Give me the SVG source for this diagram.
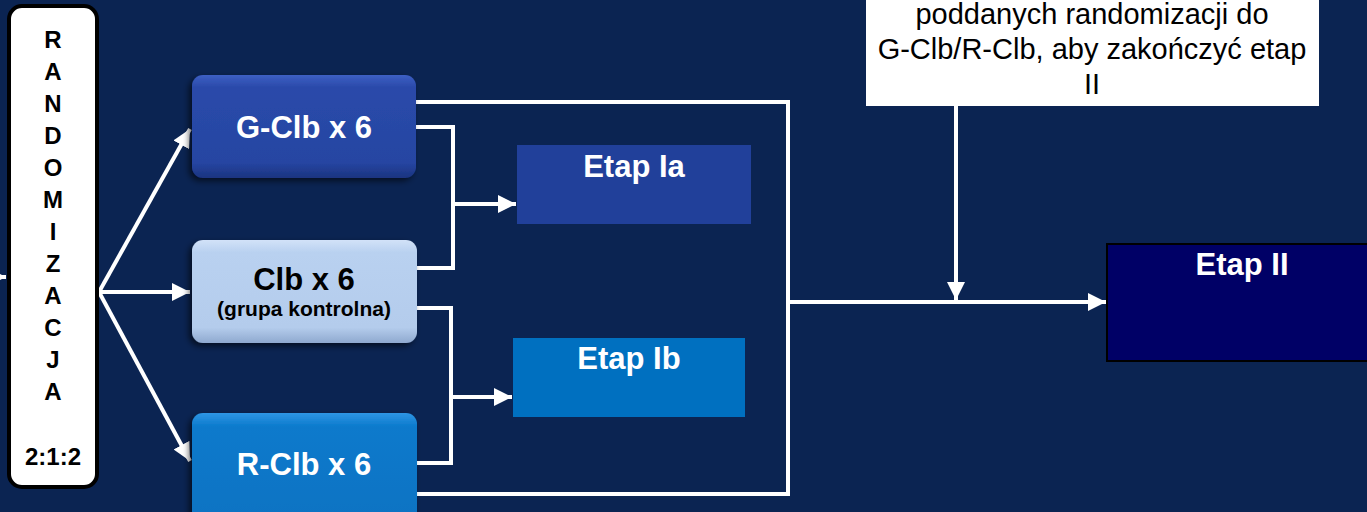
<svg xmlns="http://www.w3.org/2000/svg" width="1367" height="512" viewBox="0 0 1367 512">
<style>
.bg{fill:#0B2452}
.ln{fill:none;stroke:#FFFFFF;stroke-width:4;stroke-linejoin:miter}
.big{font-family:"Liberation Sans",Arial,sans-serif;font-weight:bold;font-size:31px;text-anchor:middle}
.let{font-family:"Liberation Sans",Arial,sans-serif;font-weight:bold;font-size:24px;text-anchor:middle;fill:#000}
.note{font-family:"Liberation Sans",Arial,sans-serif;font-size:29px;text-anchor:middle;fill:#000}
.w{fill:#FFFFFF}
.k{fill:#000000}
</style>
<defs>
<marker id="ah" viewBox="0 0 10 10" refX="10" refY="5" markerWidth="4.5" markerHeight="4.5" orient="auto" markerUnits="strokeWidth">
<path d="M0,0 L10,5 L0,10 z" fill="#FFFFFF"/>
</marker>
<linearGradient id="gBlue" x1="0" y1="0" x2="0" y2="1">
<stop offset="0" stop-color="#3D5FC4"/>
<stop offset="0.12" stop-color="#2A4AAA"/>
<stop offset="0.85" stop-color="#2645A2"/>
<stop offset="1" stop-color="#1B3480"/>
</linearGradient>
<linearGradient id="gLight" x1="0" y1="0" x2="0" y2="1">
<stop offset="0" stop-color="#D2E2F8"/>
<stop offset="0.12" stop-color="#B9D1F0"/>
<stop offset="0.85" stop-color="#B4CCEC"/>
<stop offset="1" stop-color="#8FA9CF"/>
</linearGradient>
<linearGradient id="gMid" x1="0" y1="0" x2="0" y2="1">
<stop offset="0" stop-color="#2E95E4"/>
<stop offset="0.12" stop-color="#0B7ACC"/>
<stop offset="1" stop-color="#0A72C2"/>
</linearGradient>
<filter id="sh" x="-10%" y="-10%" width="125%" height="130%">
<feDropShadow dx="-3" dy="3" stdDeviation="3" flood-color="#000" flood-opacity="0.6"/>
</filter>
</defs>
<rect class="bg" x="0" y="0" width="1367" height="512"/>

<g id="connectors">
<line class="ln" x1="-10" y1="277" x2="6" y2="277" marker-end="url(#ah)"/>
<line class="ln" x1="99" y1="292" x2="190" y2="129" marker-end="url(#ah)"/>
<line class="ln" x1="99" y1="292" x2="190" y2="292" marker-end="url(#ah)"/>
<line class="ln" x1="99" y1="292" x2="190" y2="461" marker-end="url(#ah)"/>
<polyline class="ln" points="416,102 788,102 788,494 416,494"/>
<line class="ln" x1="788" y1="302" x2="1106" y2="302" marker-end="url(#ah)"/>
<line class="ln" x1="956" y1="105" x2="956" y2="300" marker-end="url(#ah)"/>
<polyline class="ln" points="416,127 453,127 453,268 416,268"/>
<line class="ln" x1="453" y1="204" x2="516" y2="204" marker-end="url(#ah)"/>
<polyline class="ln" points="416,308 451,308 451,463 416,463"/>
<line class="ln" x1="451" y1="397" x2="512" y2="397" marker-end="url(#ah)"/>
</g>

<g id="randomizacja">
<rect x="9" y="6" width="88" height="481" rx="13" fill="#FFFFFF" stroke="#000000" stroke-width="4"/>
<text class="let" x="53" y="48">R</text>
<text class="let" x="53" y="80">A</text>
<text class="let" x="53" y="112">N</text>
<text class="let" x="53" y="144">D</text>
<text class="let" x="53" y="176">O</text>
<text class="let" x="53" y="208">M</text>
<text class="let" x="53" y="240">I</text>
<text class="let" x="53" y="272">Z</text>
<text class="let" x="53" y="304">A</text>
<text class="let" x="53" y="336">C</text>
<text class="let" x="53" y="368">J</text>
<text class="let" x="53" y="400">A</text>
<text class="let" x="53" y="465">2:1:2</text>
</g>

<g id="gclb">
<rect x="192" y="75" width="224" height="103" rx="11" fill="url(#gBlue)" filter="url(#sh)"/>
<text class="big w" x="304" y="138">G-Clb x 6</text>
</g>

<g id="clb">
<rect x="192" y="240" width="225" height="103" rx="11" fill="url(#gLight)" filter="url(#sh)"/>
<text class="big k" x="304" y="290">Clb x 6</text>
<text class="k" x="304" y="316" font-family="Liberation Sans, Arial, sans-serif" font-weight="bold" font-size="21" text-anchor="middle">(grupa kontrolna)</text>
</g>

<g id="rclb">
<rect x="192" y="413" width="225" height="115" rx="11" fill="url(#gMid)" filter="url(#sh)"/>
<text class="big w" x="304" y="475">R-Clb x 6</text>
</g>

<g id="etapIa">
<rect x="517" y="145" width="234" height="79" fill="#21409A"/>
<text class="big w" x="634" y="177">Etap Ia</text>
</g>

<g id="etapIb">
<rect x="513" y="338" width="232" height="79" fill="#0070C0"/>
<text class="big w" x="629" y="369">Etap Ib</text>
</g>

<g id="etapII">
<rect x="1107" y="244" width="270" height="117" fill="#000066" stroke="#000000" stroke-width="2"/>
<text class="big w" x="1242" y="275">Etap II</text>
</g>

<g id="note">
<rect x="866" y="-5" width="453" height="111" fill="#FFFFFF"/>
<text class="note" x="1092" y="24">poddanych randomizacji do</text>
<text class="note" x="1092" y="59">G-Clb/R-Clb, aby zakończyć etap</text>
<text class="note" x="1092" y="94">II</text>
</g>
</svg>
